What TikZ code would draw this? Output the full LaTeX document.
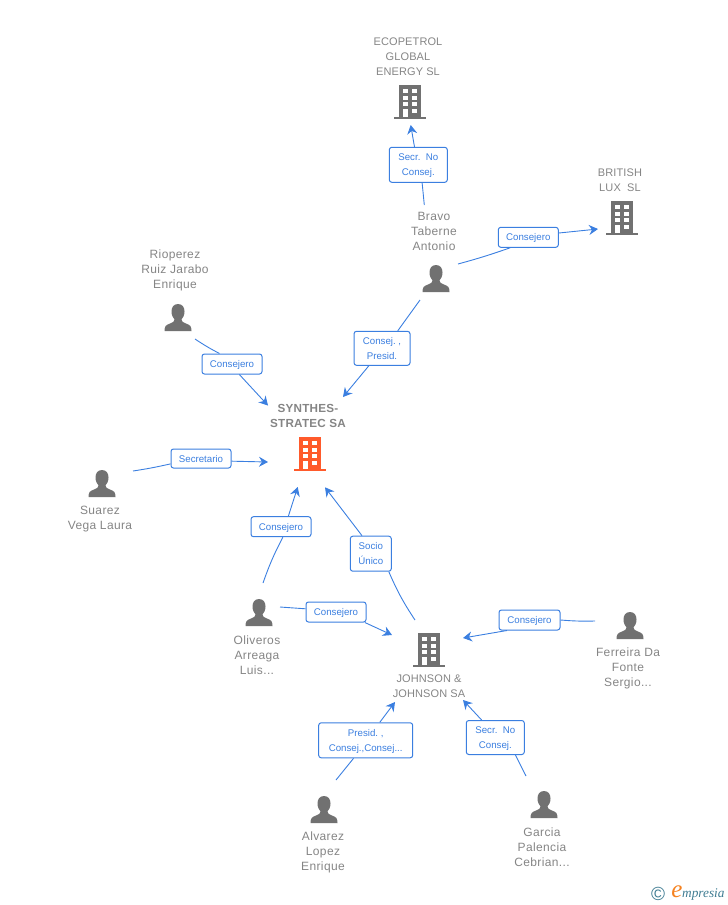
\documentclass[tikz,border=0pt]{standalone}
\usepackage{fontspec}
\setmainfont{Liberation Sans}
\newfontfamily\namefont[LetterSpace=3]{Liberation Sans}
\newfontfamily\capsfont[LetterSpace=1]{Liberation Sans}
\newfontfamily\boldfont[LetterSpace=2]{Liberation Sans}
\newfontfamily\logofont{Liberation Serif}
\usetikzlibrary{arrows.meta}
\definecolor{lnkblue}{HTML}{3B7FE0}
\definecolor{txtgray}{HTML}{858585}
\definecolor{icongray}{HTML}{717171}
\definecolor{corange}{HTML}{FF5A2B}
\definecolor{logoteal}{HTML}{3F7C92}
\definecolor{logoorange}{HTML}{F58220}
\tikzset{
	nm/.style={text=txtgray,align=center,inner sep=0pt,font=\namefont\fontsize{12}{15}\selectfont},
	co/.style={text=txtgray,align=center,inner sep=0pt,font=\capsfont\fontsize{11}{15}\selectfont},
	lb/.style={draw=lnkblue,fill=white,rounded corners=2.5pt,line width=1pt,text=lnkblue,align=center,inner sep=0pt,text depth=0pt,font=\fontsize{9.7}{15}\selectfont},
	lnk/.style={draw=lnkblue,line width=0.9pt,-{Stealth[length=9pt,width=10pt,inset=3pt]}},
	bldg/.pic={
		\fill[pic actions](-11,0)rectangle(11,32);
		\fill[pic actions](-16,31.5)rectangle(16,34);
		\foreach \y in{4,10.7,17}{
			\fill[white](-7.3,\y)rectangle++(5,4.4);
			\fill[white](2.3,\y)rectangle++(5,4.4);
		}
		\fill[white](2.3,23.7)rectangle++(5,4.4);
		\fill[white](-7,23.7)rectangle(-2.3,32);
	},
	prsn/.pic={
		\fill[icongray](0,0)..controls(-4.5,0)and(-6.5,3.5)..(-6.5,7.5)..controls(-6.5,11)and(-5,14)..(-3.5,15.5)
		..controls(-3.5,17.5)and(-5,18.5)..(-8,19.5)..controls(-12,21)and(-13.5,22)..(-13.5,27)--(13.5,27)
		..controls(13.5,22)and(12,21)..(8,19.5)..controls(5,18.5)and(3.5,17.5)..(3.5,15.5)
		..controls(5,14)and(6.5,11)..(6.5,7.5)..controls(6.5,3.5)and(4.5,0)..(0,0)--cycle;
	},
}
\begin{document}
\begin{tikzpicture}[x=1pt,y=-1pt]
	\useasboundingbox(0,0)rectangle(728,905);
	% companies
	\path(410,85)pic[fill=icongray]{bldg}(622,201)pic[fill=icongray]{bldg}(429,633)pic[fill=icongray]{bldg}(310,437)pic[fill=corange]{bldg};
	% people
	\foreach \x/\y in{436/265,178/304,102/470,259/599,630/612,324/796,544/791}
	\path(\x,\y)pic{prsn};
	% names
	\node[co](ecopetrol)at(408,56.7){ECOPETROL\\GLOBAL\\ENERGY SL};
	\node[co](british)at(620,180.3){BRITISH\\LUX\ \ SL};
	\node[nm](bravo)at(434,231.5){Bravo\\Taberne\\Antonio};
	\node[nm](rioperez)at(175,270.5){Rioperez\\Ruiz Jarabo\\Enrique};
	\node[co,font=\bfseries\boldfont\fontsize{11.7}{15}\selectfont](synthes)at(308,415.5){SYNTHES-\\STRATEC SA};
	\node[nm](suarez)at(100,518.7){Suarez\\Vega Laura};
	\node[nm](oliveros)at(257,655.5){Oliveros\\Arreaga\\Luis...};
	\node[co](johnson)at(429,686.5){JOHNSON \&\\JOHNSON SA};
	\node[nm](ferreira)at(628,668.5){Ferreira Da\\Fonte\\Sergio...};
	\node[nm](alvarez)at(323,852.5){Alvarez\\Lopez\\Enrique};
	\node[nm](garcia)at(542,847.5){Garcia\\Palencia\\Cebrian...};
	% free ends
	\foreach \n/\x/\y in{a1/424.3/205,a2/410.7/125,b1/458/264,b2/598/229,c1/420/300,c2/343/397,d1/195/339,d2/268/405.5,e1/133/471,e2/268/462,f1/263/583,f2/297.7/487,g1/415/620,g2/325/487.3,h1/280/607,h2/392/635,i1/595/621,i2/463/638,j1/336/780,j2/395/702,k1/526/776,k2/463/700}
	\coordinate(\n)at(\x,\y);
	% labels
	\node[lb,minimum width=58pt,minimum height=35pt](secrA)at(418.3,164.8){Secr.\ \ No\\Consej.};
	\node[lb,minimum width=60pt,minimum height=20pt](consA)at(528.3,237.3){Consejero};
	\node[lb,minimum width=56pt,minimum height=34pt](presA)at(382,348.3){Consej.\ ,\\Presid.};
	\node[lb,minimum width=60pt,minimum height=20pt](consB)at(232,364){Consejero};
	\node[lb,minimum width=60pt,minimum height=19pt](secrB)at(201,458.5){Secretario};
	\node[lb,minimum width=60pt,minimum height=20pt](consC)at(281,526.7){Consejero};
	\node[lb,minimum width=41pt,minimum height=35pt](socio)at(370.8,553.7){Socio\\Único};
	\node[lb,minimum width=60pt,minimum height=20pt](consD)at(336,612){Consejero};
	\node[lb,minimum width=61pt,minimum height=20pt](consE)at(529.5,620){Consejero};
	\node[lb,minimum width=94pt,minimum height=35pt](presB)at(365.7,740.3){Presid.\ ,\\Consej.,Consej...};
	\node[lb,minimum width=58pt,minimum height=34pt](secrC)at(495.3,737.5){Secr.\ \ No\\Consej.};
	% connectors
	\foreach \s/\l/\i/\o/\t/\b in{a1/secrA/-78/102/a2/0,b1/consA/-150/8/b2/-2,c1/presA/48/-127/c2/0,d1/consB/140/-55/d2/-3,e1/secrB/-170/-5/e2/-2,f1/consC/-80/55/f2/4,g1/socio/-45/116/g2/5,h1/consD/174/-20/h2/0,i1/consE/0/-155/i2/3,j1/presB/-124/52/j2/0,k1/secrC/-41/128/k2/0}
	\draw[lnk](\s)to[bend left=\b](\l.\i)(\l.\o)--(\t);
	% logo
	\node[text=logoteal,inner sep=0pt,font=\fontsize{19}{19}\selectfont](copyr)at(658,894){©};
	\node[text=logoorange,inner sep=0pt,font=\logofont\itshape\fontsize{25}{25}\selectfont](logoe)at(677,892){e};
	\node[text=logoteal,inner sep=0pt,anchor=west,font=\logofont\itshape\fontsize{13.3}{14}\selectfont](logot)at(682,894.5){mpresia};
\end{tikzpicture}
\end{document}
